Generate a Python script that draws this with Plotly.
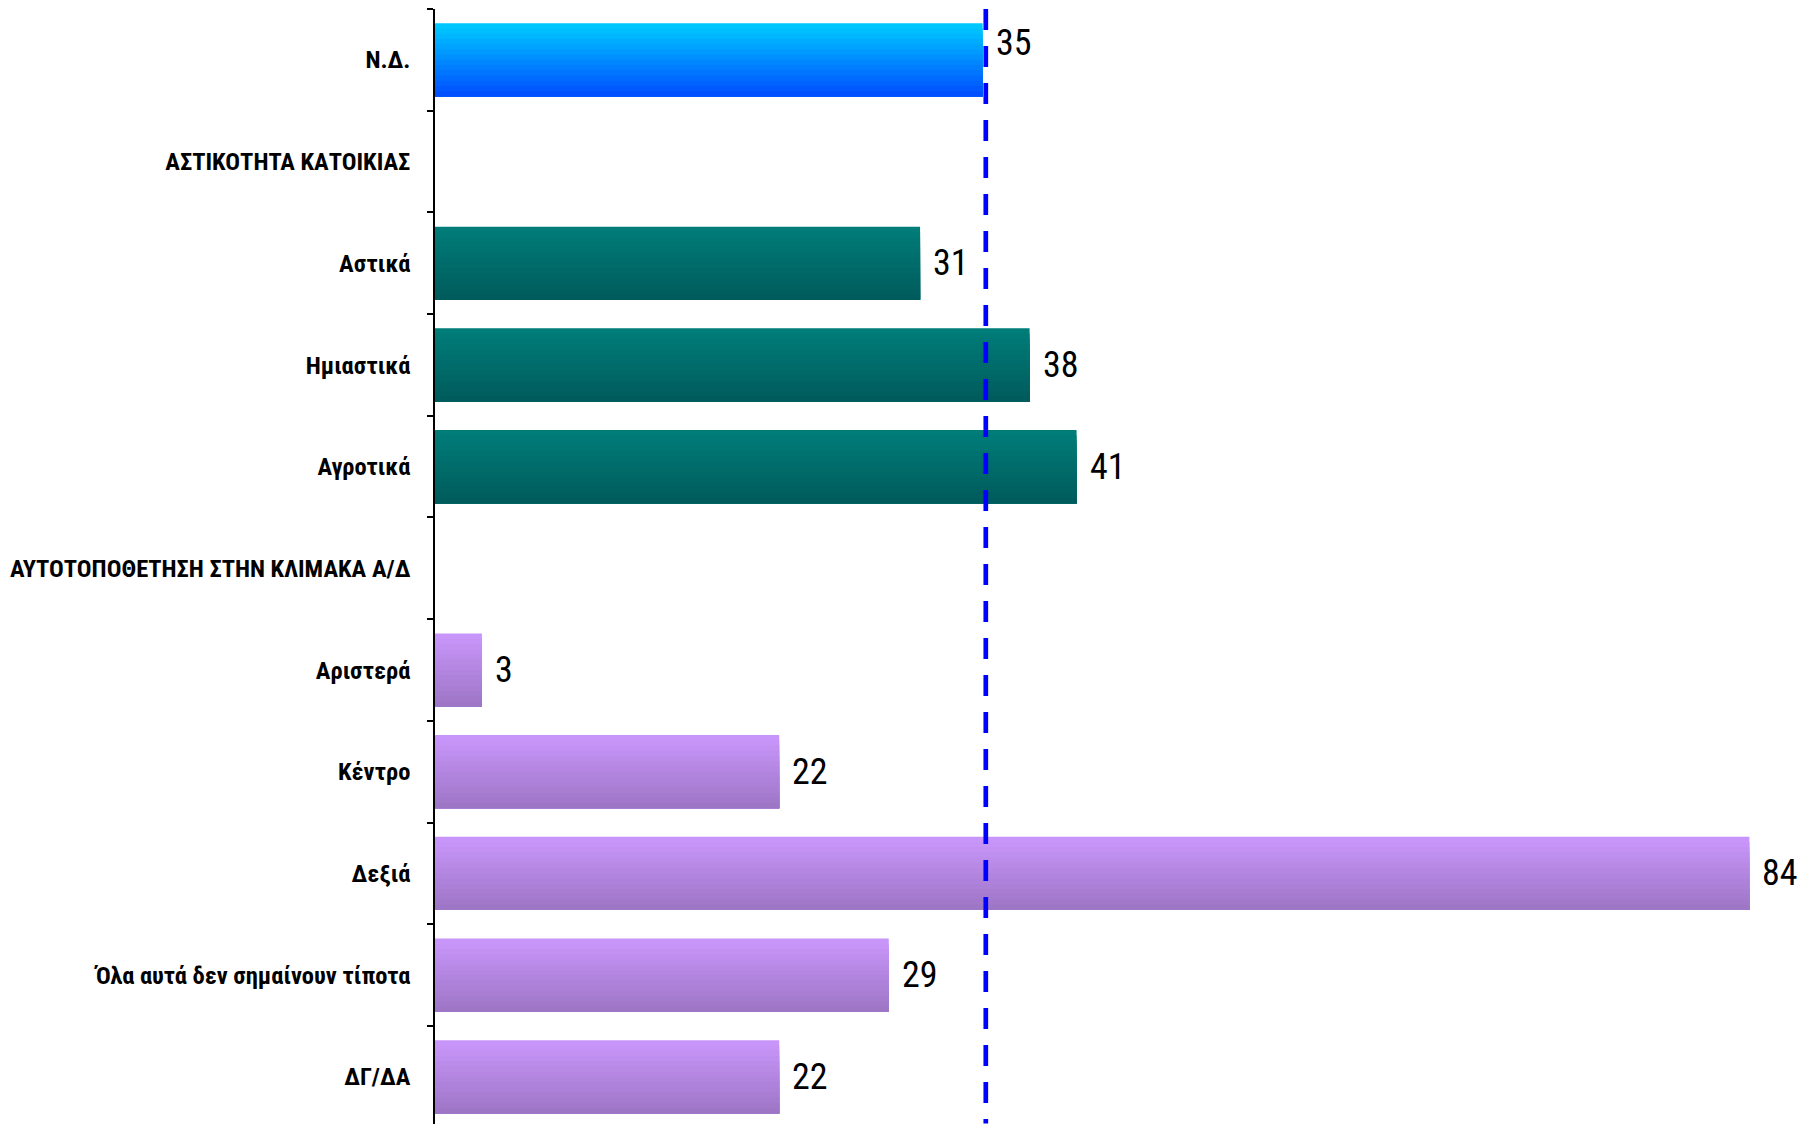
import plotly.graph_objects as go

categories = [
    "Ν.Δ.",
    "ΑΣΤΙΚΟΤΗΤΑ ΚΑΤΟΙΚΙΑΣ",
    "Αστικά",
    "Ημιαστικά",
    "Αγροτικά",
    "ΑΥΤΟΤΟΠΟΘΕΤΗΣΗ ΣΤΗΝ ΚΛΙΜΑΚΑ Α/Δ",
    "Αριστερά",
    "Κέντρο",
    "Δεξιά",
    "Όλα αυτά δεν σημαίνουν τίποτα",
    "ΔΓ/ΔΑ",
]
values = [35, None, 31, 38, 41, None, 3, 22, 84, 29, 22]
groups = ["nd", None, "urb", "urb", "urb", None, "lr", "lr", "lr", "lr", "lr"]
reference_value = 35.2  # N.D. total, dashed reference line

# top / bottom colours of the vertical gradient for each group
grad = {
    "nd": ((0x00, 0xC8, 0xFF), (0x00, 0x50, 0xFF)),
    "urb": ((0x00, 0x7C, 0x79), (0x00, 0x5C, 0x5C)),
    "lr": ((0xC8, 0x96, 0xFA), (0x9E, 0x76, 0xC6)),
}

NARROW = "Liberation Sans Narrow, Roboto Condensed, DejaVu Sans Condensed, Arial Narrow, sans-serif"

fig = go.Figure()

BAR_W = 0.72
N = 14
for i in range(N):
    t = i / (N - 1)
    cols = []
    for g in groups:
        if g is None:
            cols.append("rgba(0,0,0,0)")
            continue
        a, b = grad[g]
        c = tuple(round(a[k] + (b[k] - a[k]) * t) for k in range(3))
        cols.append("rgb(%d,%d,%d)" % c)
    start = -BAR_W / 2 + i * BAR_W / N
    # each slice runs to the bar's bottom; later slices cover the lower part
    fig.add_trace(go.Bar(
        y=categories, x=values, orientation="h",
        width=BAR_W / 2 - start, offset=start,
        marker=dict(color=cols, line=dict(width=0)),
        showlegend=False, hoverinfo="skip",
    ))

# reference dashed line
fig.add_shape(type="line", xref="x", yref="y",
              x0=reference_value, x1=reference_value, y0=-0.5, y1=10.46,
              line=dict(color="#0000FF", width=4.7, dash="21px,16px"))

# value labels
for cat, v in zip(categories, values):
    if v is None:
        continue
    fig.add_annotation(x=v, y=cat, text=str(v), showarrow=False,
                       xanchor="left", yanchor="middle",
                       xshift=11, yshift=17 if cat == "Ν.Δ." else 0,
                       font=dict(family=NARROW, size=36, color="black"))

fig.update_layout(
    width=1804, height=1116,
    margin=dict(l=427, r=0, t=1, b=0),
    plot_bgcolor="white", paper_bgcolor="white",
    barmode="overlay",
    xaxis=dict(range=[0, 88.0], visible=False, showgrid=False, zeroline=False),
    yaxis=dict(
        categoryorder="array", categoryarray=categories,
        range=[10.464, -0.5], autorange=False,
        showline=True, linecolor="black", linewidth=1.5,
        ticks="outside", ticklen=6, tickcolor="black", tickwidth=1.5,
        tickson="boundaries", showgrid=False, zeroline=False,
        ticklabelstandoff=18,
        tickfont=dict(family=NARROW, size=24.5, color="black", weight="bold"),
    ),
)

fig.write_html("out.html")
